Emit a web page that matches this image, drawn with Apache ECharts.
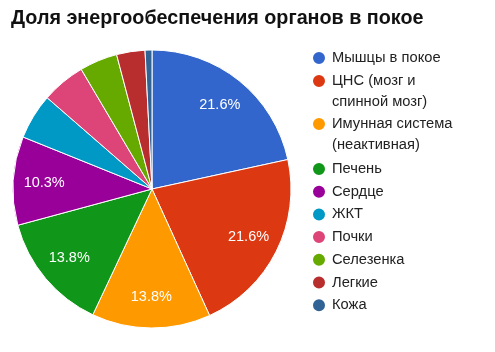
<!DOCTYPE html>
<html>
<head>
<meta charset="utf-8">
<script src="https://cdn.jsdelivr.net/npm/echarts@6/dist/echarts.min.js"></script>
<style>
  html, body { margin: 0; padding: 0; background: #fff; }
  #main { width: 495px; height: 352px; }
</style>
</head>
<body>
<div id="main"></div>
<script>
// категории (органы)
var organs = ['Мышцы в покое', 'ЦНС (мозг и\nспинной мозг)', 'Имунная система\n(неактивная)',
  'Печень', 'Сердце', 'ЖКТ', 'Почки', 'Селезенка', 'Легкие', 'Кожа'];
// доли, %
var shares = [21.6, 21.6, 13.8, 13.8, 10.3, 5.3, 5.1, 4.4, 3.3, 0.8];
var colors = ['#3366cc', '#dc3912', '#ff9900', '#109618', '#990099',
  '#0099c6', '#dd4477', '#66aa00', '#b82e2e', '#316395'];

var myChart = echarts.init(document.getElementById('main'));
var FONT = '"Liberation Sans", Arial, sans-serif';

var pieData = organs.map(function (name, i) {
  return { name: name, value: shares[i], itemStyle: { color: colors[i] } };
});

// подписи показываем только для больших долей
var labelData = organs.map(function (name, i) {
  return {
    name: name, value: shares[i],
    label: { show: shares[i] >= 10 }
  };
});

// легенда: двухстрочные пункты отдельно, чтобы кружок стоял у первой строки
// (пустая строка сверху сдвигает текст вниз относительно кружка)
function makeLegend(names, top, gap) {
  return {
    orient: 'vertical',
    left: 311,
    top: top,
    padding: 0,
    icon: 'circle',
    itemWidth: 14,
    itemHeight: 14,
    itemGap: gap,
    selectedMode: false,
    data: names,
    formatter: function (name) {
      return name.indexOf('\n') >= 0 ? '\n' + name : name;
    },
    textStyle: { fontFamily: FONT, fontSize: 14.7, color: '#222', lineHeight: 21, padding: [0, 0, 0, 1] }
  };
}

var option = {
  animation: false,
  title: {
    text: 'Доля энергообеспечения органов в покое',
    left: 6,
    top: 4,
    textStyle: { fontFamily: FONT, fontSize: 19.75, fontWeight: 'bold', color: '#111' }
  },
  legend: [
    makeLegend(organs.slice(0, 1), 47.5, 2),
    makeLegend(organs.slice(1, 2), 49.5, 2),
    makeLegend(organs.slice(2, 3), 92.5, 2),
    makeLegend(organs.slice(3), 158.5, 1.7)
  ],
  series: [{
    name: 'pie',
    type: 'pie',
    center: [152, 189],
    radius: [0, 139],
    startAngle: 90,
    clockwise: true,
    label: { show: false },
    labelLine: { show: false },
    emphasis: { disabled: true },
    itemStyle: { borderColor: '#fff', borderWidth: 1 },
    data: pieData
  }, {
    // прозрачное кольцо только для подписей
    name: 'labels',
    type: 'pie',
    center: [152, 189],
    radius: [71, 139],
    startAngle: 90,
    clockwise: true,
    silent: true,
    labelLine: { show: false },
    emphasis: { disabled: true },
    itemStyle: { color: 'transparent', borderWidth: 0 },
    label: {
      position: 'inside',
      color: '#fff',
      fontFamily: FONT,
      fontSize: 14.5,
      formatter: function (p) { return p.value.toFixed(1) + '%'; }
    },
    data: labelData
  }]
};

myChart.setOption(option);
</script>
</body>
</html>
